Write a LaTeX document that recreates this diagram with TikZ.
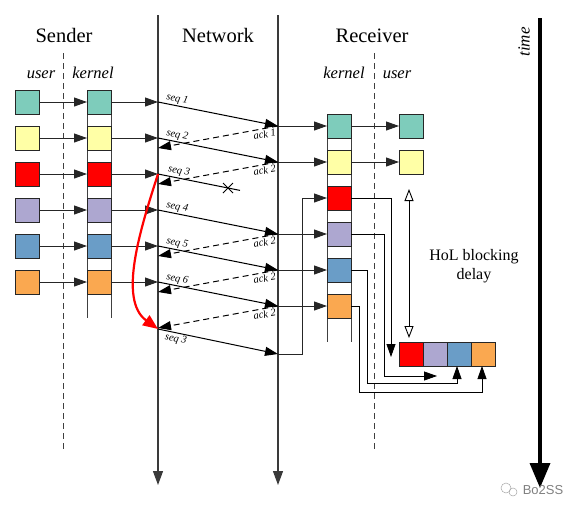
\documentclass[tikz,border=0pt]{standalone}
\usepackage{fontspec}
\setmainfont{Liberation Serif}
\newfontfamily\wmfont{Liberation Sans}
\usetikzlibrary{arrows.meta}
\definecolor{cteal}{HTML}{7ECCBB}
\definecolor{cyell}{HTML}{FFFFA6}
\definecolor{cred}{HTML}{FF0000}
\definecolor{clav}{HTML}{ADA7D0}
\definecolor{cblue}{HTML}{6A9DC7}
\definecolor{corange}{HTML}{FAA850}
\definecolor{cline}{HTML}{3A3A3A}
\begin{document}
\begin{tikzpicture}[x=1pt,y=-1pt,
  pkt/.style={draw=black!85, line width=0.9pt, minimum size=24pt, inner sep=0pt, outer sep=0pt},
  tip/.style={-{Triangle[length=13pt,width=9pt]}},
  conn/.style={draw=black!85, line width=0.9pt, tip},
  thinconn/.style={draw=black, line width=0.8pt, tip},
  netline/.style={draw=cline, line width=1.2pt, -{Triangle[length=14pt,width=10pt]}},
  layer/.style={draw=black!75, line width=1pt, dash pattern=on 6pt off 4pt},
  column/.style={draw=black!75, line width=1pt},
  seqarr/.style={draw=black, line width=1pt, tip},
  ackarr/.style={draw=black, line width=1pt, dash pattern=on 6pt off 4pt, tip},
  title/.style={font=\fontsize{20.5}{22}\selectfont, anchor=base},
  sub/.style={font=\itshape\fontsize{16.5}{18}\selectfont, anchor=base},
  lbl/.style={font=\itshape\fontsize{10.5}{11}\selectfont, inner sep=1.5pt, sloped}
]
\useasboundingbox (0,0) rectangle (581,512);

% titles
\node[title] (tS) at (64,42) {Sender};
\node[title] (tN) at (218,42) {Network};
\node[title] (tR) at (372,42) {Receiver};
\node[sub] (su) at (41,78) {user};
\node[sub] (sk) at (93,78) {kernel};
\node[sub] (rk) at (344,78) {kernel};
\node[sub] (ru) at (397,78) {user};

% layer separators
\coordinate (sdt) at (63,53); \coordinate (sdb) at (63,450);
\coordinate (rdt) at (374,53); \coordinate (rdb) at (374,450);
\draw[layer] (sdt) -- (sdb);
\draw[layer] (rdt) -- (rdb);

% network lines
\coordinate (nlt) at (158,15); \coordinate (nlb) at (158,485);
\coordinate (nrt) at (278,15); \coordinate (nrb) at (278,485);
\draw[netline] (nlt) -- (nlb);
\draw[netline] (nrt) -- (nrb);

% kernel columns
\coordinate (ka1) at (87,90); \coordinate (ka2) at (87,318);
\coordinate (kb1) at (111,90); \coordinate (kb2) at (111,318);
\draw[column] (ka1) -- (ka2); \draw[column] (kb1) -- (kb2);
\coordinate (kc1) at (327,114); \coordinate (kc2) at (327,342);
\coordinate (kd1) at (351,114); \coordinate (kd2) at (351,342);
\draw[column] (kc1) -- (kc2); \draw[column] (kd1) -- (kd2);

% sender boxes
\foreach \i/\c in {1/cteal,2/cyell,3/cred,4/clav,5/cblue,6/corange}{
  \node[pkt, fill=\c] (su\i) at (27,{102+36*(\i-1)}) {};
  \node[pkt, fill=\c] (sk\i) at (99,{102+36*(\i-1)}) {};
  \coordinate (nl\i) at (158,{102+36*(\i-1)});
  \draw[conn] (su\i.east) -- (sk\i.west);
  \draw[conn] (sk\i.east) -- (nl\i);
}

% receiver kernel boxes
\foreach \i/\c in {1/cteal,2/cyell,3/cred,4/clav,5/cblue,6/corange}{
  \node[pkt, fill=\c] (rk\i) at (339,{126+36*(\i-1)}) {};
  \coordinate (nr\i) at (278,{126+36*(\i-1)});
}
\node[pkt, fill=cteal] (ru1) at (411,126) {};
\node[pkt, fill=cyell] (ru2) at (411,162) {};
\draw[conn] (rk1.east) -- (ru1.west);
\draw[conn] (rk2.east) -- (ru2.west);

% seq arrows
\draw[seqarr] (nl1) -- node[lbl, pos=0.15, above] {seq 1} (nr1);
\draw[seqarr] (nl2) -- node[lbl, pos=0.15, above] {seq 2} (nr2);
\draw[seqarr] (nl4) -- node[lbl, pos=0.15, above] {seq 4} (nr4);
\draw[seqarr] (nl5) -- node[lbl, pos=0.15, above] {seq 5} (nr5);
\draw[seqarr] (nl6) -- node[lbl, pos=0.15, above] {seq 6} (nr6);
% lost seq 3
\coordinate (lostend) at (240,190.4);
\draw[line width=1pt] (nl3) -- node[lbl, pos=0.24, above] {seq 3} (lostend);
\coordinate (xm) at (228,188);
\draw[line width=0.9pt] ([shift={(-5,-5)}]xm) -- ([shift={(5,5)}]xm);
\draw[line width=0.9pt] ([shift={(-5,5)}]xm) -- ([shift={(5,-5)}]xm);

% acks
\coordinate (a1) at (158,148); \coordinate (a2) at (158,184);
\coordinate (a4) at (158,256); \coordinate (a5) at (158,292);
\coordinate (a6) at (158,328);
\draw[ackarr] (nr1) -- node[lbl, pos=0.12, below] {ack 1} (a1);
\draw[ackarr] (nr2) -- node[lbl, pos=0.12, below] {ack 2} (a2);
\draw[ackarr] (nr4) -- node[lbl, pos=0.12, below] {ack 2} (a4);
\draw[ackarr] (nr5) -- node[lbl, pos=0.12, below] {ack 2} (a5);
\draw[ackarr] (nr6) -- node[lbl, pos=0.12, below] {ack 2} (a6);

% retransmission
\coordinate (rs) at (158,329); \coordinate (re) at (278,354);
\draw[seqarr] (rs) -- node[lbl, pos=0.16, below] {seq 3} (re);
\draw[red, line width=2.2pt, -{Triangle[length=15pt,width=12pt]}]
  (nl3) .. controls (140,230) and (118,300) .. (rs);

% network -> receiver kernel
\foreach \i in {1,2,4,5,6}{ \draw[conn] (nr\i) -- (rk\i.west); }
\draw[conn] (re) -- (302,354) -- (302,198) -- (rk3.west);

% reassembled row
\node[pkt, fill=cred] (h3) at (411,354) {};
\node[pkt, fill=clav] (h4) at (435,354) {};
\node[pkt, fill=cblue] (h5) at (459,354) {};
\node[pkt, fill=corange] (h6) at (483,354) {};

\draw[thinconn] (rk3.east) -- (391,198) -- (391,357);
\draw[thinconn] (rk4.east) -- (384,234) -- (384,376) -- (437,376);
\draw[thinconn] (rk5.east) -- (367,270) -- (367,383) -- (457,383) -- ([xshift=-2pt]h5.south);
\draw[thinconn] (rk6.east) -- (359,306) -- (359,392) -- (482,392) -- ([xshift=-1pt]h6.south);

% HoL delay
\coordinate (hta) at (409,189); \coordinate (htb) at (409,338);
\draw[line width=0.9pt, {Triangle[open,length=12pt,width=9pt,fill=white]}-{Triangle[open,length=12pt,width=9pt,fill=white]}] (hta) -- (htb);
\node[align=center, font=\fontsize{16}{19}\selectfont] (hol) at (474,266) {HoL blocking\\delay};

% time axis
\coordinate (tt) at (540,18); \coordinate (tb) at (540,488);
\draw[line width=3.5pt, -{Triangle[length=25pt,width=20pt]}] (tt) -- (tb);
\node[rotate=90, font=\itshape\fontsize{17}{17}\selectfont] (time) at (524,42) {time};

% watermark
\draw[black!35, line width=0.5pt] (506,488) circle (5);
\draw[black!35, line width=0.5pt] (513,492) circle (4);
\node[text=black!50, font=\wmfont\fontsize{13}{13}\selectfont] (wm) at (543,490) {Bo2SS};
\end{tikzpicture}
\end{document}
